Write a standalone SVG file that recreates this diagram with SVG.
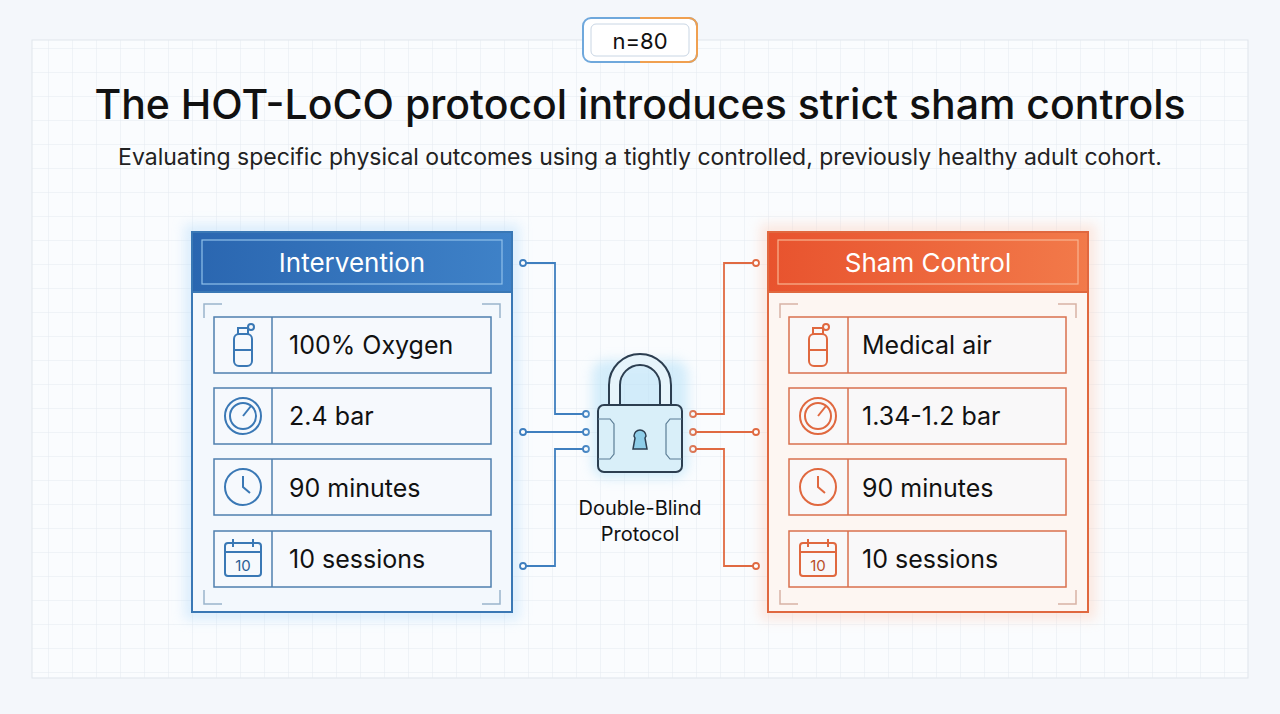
<svg xmlns="http://www.w3.org/2000/svg" width="1280" height="714" viewBox="0 0 1280 714">
<defs>
<pattern id="grid" width="24" height="24" patternUnits="userSpaceOnUse"><path d="M24 0H0V24" fill="none" stroke="#e3e9f0" stroke-width="1"/></pattern>
<linearGradient id="bh" x1="0" x2="1"><stop offset="0" stop-color="#2a66b0"/><stop offset="1" stop-color="#3f82c8"/></linearGradient>
<linearGradient id="oh" x1="0" x2="1"><stop offset="0" stop-color="#e8532e"/><stop offset="1" stop-color="#f27a4a"/></linearGradient>
<filter id="glow" x="-20%" y="-20%" width="140%" height="140%"><feGaussianBlur stdDeviation="6"/></filter>
</defs>
<style>
text{font-family:Inter,"Liberation Sans",sans-serif}
.row{fill:#f6f9fc;fill-opacity:.7;stroke-width:1.5}
.b .row{stroke:#4f7fae}.o .row{stroke:#d9704e}
.lbl{font-size:25px;fill:#111}
.hd{font-size:26px;fill:#fff;text-anchor:middle}
.bc{fill:none;stroke:#3f7fbf;stroke-width:1.8}
.oc{fill:none;stroke:#e06a42;stroke-width:1.8}
.dot{fill:#fff;stroke-width:1.8}
.ib{fill:none;stroke:#3a78b5;stroke-width:2}
.io{fill:none;stroke:#e0683f;stroke-width:2}
</style>
<rect width="1280" height="714" fill="#f4f7fb"/>
<rect x="32" y="40" width="1216" height="638" fill="#fafcfe" stroke="#dfe5ec"/>
<rect x="32" y="40" width="1216" height="638" fill="url(#grid)"/>
<g id="badge">
<rect x="583" y="18" width="114" height="44" rx="8" fill="#fff" stroke="#6fa8dc" stroke-width="2"/>
<path d="M640 18H689a8 8 0 0 1 8 8V54a8 8 0 0 1-8 8H640" fill="none" stroke="#f0a050" stroke-width="2"/>
<rect x="591" y="24" width="98" height="32" rx="5" fill="#fff" stroke="#c9d6e4"/>
<text x="640" y="49" font-size="22" text-anchor="middle" fill="#111">n=80</text>
</g>
<text x="640" y="119" font-size="41" text-anchor="middle" fill="#111" font-weight="500">The HOT-LoCO protocol introduces strict sham controls</text>
<text x="640" y="165" font-size="23" text-anchor="middle" fill="#222">Evaluating specific physical outcomes using a tightly controlled, previously healthy adult cohort.</text>

<g id="intervention" class="b">
<rect x="184" y="224" width="336" height="396" fill="#bfe0fb" opacity=".5" filter="url(#glow)"/>
<rect x="192" y="232" width="320" height="380" fill="#f3f8fd" stroke="#3a78b5" stroke-width="2"/>
<rect x="192" y="232" width="320" height="60" fill="url(#bh)" stroke="#3a78b5" stroke-width="2"/>
<rect x="202" y="240" width="300" height="44" fill="none" stroke="#8fc0ea" stroke-width="1.2"/>
<text class="hd" x="352" y="272">Intervention</text>
<path d="M204 318V304H222M500 318V304H482M204 590V604H222M500 590V604H482" fill="none" stroke="#9ab4cc" stroke-width="1.5"/>
<rect class="row" x="214" y="317" width="277" height="56"/><line x1="272" y1="317" x2="272" y2="373" stroke="#4f7fae" stroke-width="1.5"/>
<rect class="row" x="214" y="388" width="277" height="56"/><line x1="272" y1="388" x2="272" y2="444" stroke="#4f7fae" stroke-width="1.5"/>
<rect class="row" x="214" y="459" width="277" height="56"/><line x1="272" y1="459" x2="272" y2="515" stroke="#4f7fae" stroke-width="1.5"/>
<rect class="row" x="214" y="531" width="277" height="56"/><line x1="272" y1="531" x2="272" y2="587" stroke="#4f7fae" stroke-width="1.5"/>
<g class="ib"><rect x="234" y="334" width="18" height="32" rx="5"/><path d="M238 334V328H248V334M234 350H252"/><circle cx="251" cy="327" r="3"/></g>
<g class="ib"><circle cx="243" cy="416" r="18"/><circle cx="243" cy="416" r="13"/><path d="M243 416L251 406"/></g>
<g class="ib"><circle cx="243" cy="487" r="18"/><path d="M243 476V487L250 493"/></g>
<g class="ib"><rect x="225" y="543" width="36" height="33" rx="3"/><path d="M225 552H261M233 539V547M253 539V547"/></g>
<text x="243" y="571" font-size="15" text-anchor="middle" fill="#2a5e94">10</text>
<text class="lbl" x="289" y="354">100% Oxygen</text>
<text class="lbl" x="289" y="425">2.4 bar</text>
<text class="lbl" x="289" y="497">90 minutes</text>
<text class="lbl" x="289" y="568">10 sessions</text>
</g>

<g id="sham" class="o">
<rect x="760" y="224" width="336" height="396" fill="#fdd5c4" opacity=".5" filter="url(#glow)"/>
<rect x="768" y="232" width="320" height="380" fill="#fdf6f2" stroke="#e0683f" stroke-width="2"/>
<rect x="768" y="232" width="320" height="60" fill="url(#oh)" stroke="#e0683f" stroke-width="2"/>
<rect x="778" y="240" width="300" height="44" fill="none" stroke="#f8b491" stroke-width="1.2"/>
<text class="hd" x="928" y="272">Sham Control</text>
<path d="M780 318V304H798M1076 318V304H1058M780 590V604H798M1076 590V604H1058" fill="none" stroke="#d7b3a5" stroke-width="1.5"/>
<rect class="row" x="789" y="317" width="277" height="56"/><line x1="848" y1="317" x2="848" y2="373" stroke="#d9704e" stroke-width="1.5"/>
<rect class="row" x="789" y="388" width="277" height="56"/><line x1="848" y1="388" x2="848" y2="444" stroke="#d9704e" stroke-width="1.5"/>
<rect class="row" x="789" y="459" width="277" height="56"/><line x1="848" y1="459" x2="848" y2="515" stroke="#d9704e" stroke-width="1.5"/>
<rect class="row" x="789" y="531" width="277" height="56"/><line x1="848" y1="531" x2="848" y2="587" stroke="#d9704e" stroke-width="1.5"/>
<g class="io"><rect x="809" y="334" width="18" height="32" rx="5"/><path d="M813 334V328H823V334M809 350H827"/><circle cx="826" cy="327" r="3"/></g>
<g class="io"><circle cx="818" cy="416" r="18"/><circle cx="818" cy="416" r="13"/><path d="M818 416L826 406"/></g>
<g class="io"><circle cx="818" cy="487" r="18"/><path d="M818 476V487L825 493"/></g>
<g class="io"><rect x="800" y="543" width="36" height="33" rx="3"/><path d="M800 552H836M808 539V547M828 539V547"/></g>
<text x="818" y="571" font-size="15" text-anchor="middle" fill="#b84e2a">10</text>
<text class="lbl" x="862" y="354">Medical air</text>
<text class="lbl" x="862" y="425">1.34-1.2 bar</text>
<text class="lbl" x="862" y="497">90 minutes</text>
<text class="lbl" x="862" y="568">10 sessions</text>
</g>

<g id="connectors">
<path class="bc" d="M523 263H555V414H586M523 432H586M523 566H555V449H586"/>
<path class="oc" d="M693 414H724V263H756M693 432H756M693 449H724V566H756"/>
<g class="dot" stroke="#3f7fbf"><circle cx="523" cy="263" r="3"/><circle cx="523" cy="432" r="3"/><circle cx="523" cy="566" r="3"/><circle cx="586" cy="414" r="3"/><circle cx="586" cy="432" r="3"/><circle cx="586" cy="449" r="3"/></g>
<g class="dot" stroke="#e06a42"><circle cx="756" cy="263" r="3"/><circle cx="756" cy="432" r="3"/><circle cx="756" cy="566" r="3"/><circle cx="693" cy="414" r="3"/><circle cx="693" cy="432" r="3"/><circle cx="693" cy="449" r="3"/></g>
</g>

<g id="lock">
<rect x="592" y="360" width="96" height="118" rx="14" fill="#b9e2f8" opacity=".6" filter="url(#glow)"/>
<path d="M609 405V385a31 31 0 0 1 62 0V405H660V385a20 20 0 0 0-40 0V405Z" fill="#e6f4fb" stroke="#2c3e50" stroke-width="2"/>
<rect x="598" y="405" width="84" height="67" rx="6" fill="#d9eff9" stroke="#2c3e50" stroke-width="2"/>
<path d="M634 436a6 6 0 1 1 12 0l-1 2l2 11h-14l2-11z" fill="#8ecde8" stroke="#2c3e50" stroke-width="1.5"/>
<path d="M598 419H610L614 424V454L610 459H598M682 419H670L666 424V454L670 459H682" fill="none" stroke="#5b7d95" stroke-width="1.2"/>
<text x="640" y="515" font-size="20" text-anchor="middle" fill="#111">Double-Blind</text>
<text x="640" y="541" font-size="20" text-anchor="middle" fill="#111">Protocol</text>
</g>
</svg>
